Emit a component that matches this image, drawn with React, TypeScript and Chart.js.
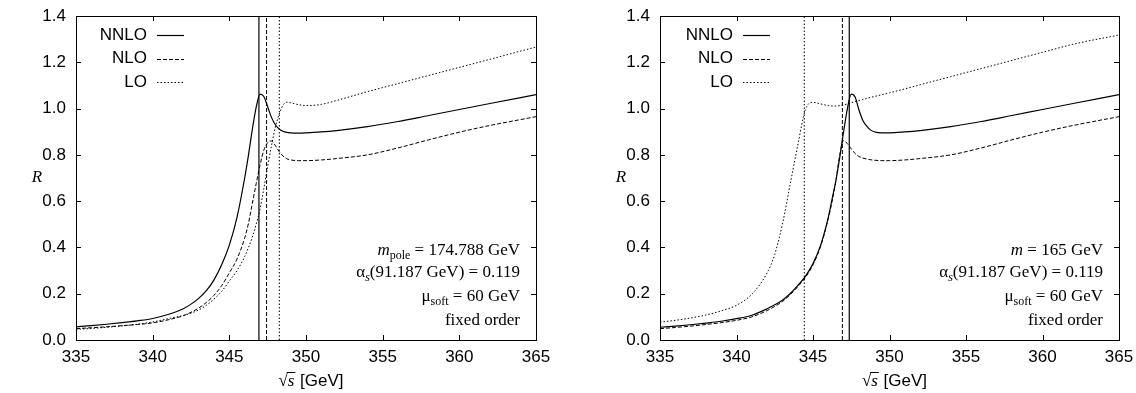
import React, { useEffect, useRef } from 'react';
import { Chart, registerables } from 'chart.js';

Chart.register(...registerables);

// ---------- data ----------
const energies = [335, 336, 337, 338, 339, 340, 341, 342, 342.5, 343, 343.5, 344, 344.5, 345, 345.5, 346, 346.25, 346.5, 346.75, 347, 347.25, 347.5, 347.75, 348, 348.25, 348.5, 348.75, 349, 349.5, 350, 351, 352, 354, 356, 358, 360, 362, 365];

const leftNNLO = [0.057, 0.062, 0.068, 0.075, 0.083, 0.093, 0.110, 0.135, 0.155, 0.18, 0.213, 0.26, 0.325, 0.41, 0.53, 0.70, 0.80, 0.91, 1.005, 1.062, 1.052, 1.008, 0.962, 0.93, 0.912, 0.902, 0.897, 0.895, 0.894, 0.895, 0.899, 0.905, 0.922, 0.944, 0.97, 0.996, 1.022, 1.06];
const leftNLO = [0.049, 0.053, 0.057, 0.062, 0.067, 0.074, 0.087, 0.105, 0.12, 0.138, 0.162, 0.193, 0.235, 0.29, 0.35, 0.44, 0.505, 0.59, 0.675, 0.755, 0.82, 0.853, 0.86, 0.84, 0.814, 0.795, 0.783, 0.778, 0.775, 0.775, 0.778, 0.784, 0.8, 0.83, 0.865, 0.898, 0.927, 0.965];
const leftLO = [0.046, 0.05, 0.055, 0.061, 0.068, 0.078, 0.092, 0.106, 0.116, 0.13, 0.15, 0.177, 0.21, 0.255, 0.3, 0.36, 0.4, 0.445, 0.5, 0.565, 0.655, 0.75, 0.84, 0.92, 0.975, 1.015, 1.027, 1.025, 1.017, 1.013, 1.018, 1.035, 1.073, 1.108, 1.143, 1.178, 1.213, 1.266];

const rightNNLO = [0.055, 0.06, 0.066, 0.073, 0.081, 0.092, 0.107, 0.135, 0.152, 0.172, 0.2, 0.235, 0.275, 0.33, 0.41, 0.53, 0.61, 0.69, 0.79, 0.9, 1.0, 1.062, 1.05, 0.995, 0.95, 0.925, 0.908, 0.9, 0.895, 0.895, 0.899, 0.905, 0.922, 0.944, 0.97, 0.996, 1.022, 1.06];
const rightNLO = [0.049, 0.054, 0.06, 0.067, 0.075, 0.085, 0.1, 0.127, 0.145, 0.166, 0.195, 0.23, 0.27, 0.325, 0.405, 0.525, 0.6, 0.69, 0.8, 0.862, 0.848, 0.826, 0.806, 0.793, 0.786, 0.782, 0.779, 0.777, 0.775, 0.775, 0.778, 0.784, 0.8, 0.83, 0.865, 0.898, 0.927, 0.965];
const rightLO = [0.077, 0.085, 0.095, 0.108, 0.126, 0.15, 0.198, 0.29, 0.37, 0.5, 0.67, 0.84, 0.995, 1.027, 1.02, 1.013, 1.011, 1.011, 1.013, 1.016, 1.02, 1.025, 1.03, 1.035, 1.039, 1.044, 1.048, 1.052, 1.06, 1.068, 1.085, 1.103, 1.138, 1.173, 1.208, 1.243, 1.278, 1.318];

// threshold (vertical line) positions, in order NNLO, NLO, LO
const leftThresholds = [346.93, 347.43, 348.26];
const rightThresholds = [347.37, 346.92, 344.43];

const seriesNames = ['NNLO', 'NLO', 'LO'];
const xTicks = [335, 340, 345, 350, 355, 360, 365];
const yTicks = [0, 0.2, 0.4, 0.6, 0.8, 1.0, 1.2, 1.4];

type Seg = { t: string; it?: boolean; sub?: boolean };
const leftNotes: Seg[][] = [
  [{ t: 'm', it: true }, { t: 'pole', sub: true }, { t: ' = 174.788 GeV' }],
  [{ t: 'α' }, { t: 's', it: true, sub: true }, { t: '(91.187 GeV) = 0.119' }],
  [{ t: 'μ' }, { t: 'soft', sub: true }, { t: ' = 60 GeV' }],
  [{ t: 'fixed order' }],
];
const rightNotes: Seg[][] = [
  [{ t: 'm', it: true }, { t: ' = 165 GeV' }],
  [{ t: 'α' }, { t: 's', it: true, sub: true }, { t: '(91.187 GeV) = 0.119' }],
  [{ t: 'μ' }, { t: 'soft', sub: true }, { t: ' = 60 GeV' }],
  [{ t: 'fixed order' }],
];

const DASHES: number[][] = [[], [4, 2], [1.5, 2]];
const SANS = '"Liberation Sans", Arial, Helvetica, sans-serif';
const SERIF = '"Liberation Serif", "Times New Roman", serif';

function drawRich(ctx: CanvasRenderingContext2D, segs: Seg[], right: number, base: number) {
  const fontFor = (s: Seg) => `${s.it ? 'italic ' : ''}${s.sub ? 12 : 17}px ${SERIF}`;
  let w = 0;
  segs.forEach((s) => {
    ctx.font = fontFor(s);
    w += ctx.measureText(s.t).width;
  });
  let x = right - w;
  ctx.textAlign = 'left';
  ctx.textBaseline = 'alphabetic';
  segs.forEach((s) => {
    ctx.font = fontFor(s);
    ctx.fillText(s.t, x, base + (s.sub ? 4 : 0));
    x += ctx.measureText(s.t).width;
  });
}

function makeDecor(notes: Seg[][], legendOffset: number) {
  return {
    id: 'decor',
    afterDraw(chart: any) {
      const { ctx, chartArea: a, scales } = chart;
      const xs = scales.x;
      const ys = scales.y;
      ctx.save();
      ctx.strokeStyle = '#000';
      ctx.fillStyle = '#000';
      ctx.lineWidth = 1;
      ctx.setLineDash([]);
      // frame
      ctx.strokeRect(Math.round(a.left) + 0.5, Math.round(a.top) + 0.5, Math.round(a.right - a.left), Math.round(a.bottom - a.top));
      // ticks (inward, mirrored)
      const tl = 5;
      ctx.beginPath();
      xTicks.forEach((v) => {
        const px = Math.round(xs.getPixelForValue(v)) + 0.5;
        ctx.moveTo(px, a.bottom);
        ctx.lineTo(px, a.bottom - tl);
        ctx.moveTo(px, a.top);
        ctx.lineTo(px, a.top + tl);
      });
      yTicks.forEach((v) => {
        const py = Math.round(ys.getPixelForValue(v)) + 0.5;
        ctx.moveTo(a.left, py);
        ctx.lineTo(a.left + tl, py);
        ctx.moveTo(a.right, py);
        ctx.lineTo(a.right - tl, py);
      });
      ctx.stroke();
      // tick labels
      ctx.font = `17px ${SANS}`;
      ctx.textAlign = 'center';
      ctx.textBaseline = 'middle';
      xTicks.forEach((v) => {
        ctx.fillText(String(v), xs.getPixelForValue(v), a.bottom + 17);
      });
      ctx.textAlign = 'right';
      yTicks.forEach((v) => {
        ctx.fillText(v.toFixed(1), a.left - 10, ys.getPixelForValue(v));
      });
      // legend
      seriesNames.forEach((name, i) => {
        const yy = a.top + 19 + i * 23.5;
        const tx = a.left + legendOffset;
        ctx.font = `17px ${SANS}`;
        ctx.textAlign = 'right';
        ctx.textBaseline = 'middle';
        ctx.fillText(name, tx, yy);
        ctx.setLineDash(DASHES[i]);
        ctx.lineWidth = i === 0 ? 1.2 : 1;
        ctx.beginPath();
        ctx.moveTo(tx + 10, Math.round(yy) + 0.5);
        ctx.lineTo(tx + 37, Math.round(yy) + 0.5);
        ctx.stroke();
      });
      ctx.setLineDash([]);
      ctx.lineWidth = 1;
      // annotation
      const baseOffsets = [-85, -63, -39, -15];
      notes.forEach((segs, i) => drawRich(ctx, segs, a.right - 16, a.bottom + baseOffsets[i]));
      // y title
      ctx.font = `italic 17px ${SERIF}`;
      ctx.textAlign = 'center';
      ctx.textBaseline = 'middle';
      ctx.fillText('R', a.left - 39, (a.top + a.bottom) / 2);
      // x title: √s [GeV]
      const base = a.bottom + 46;
      ctx.textAlign = 'left';
      ctx.textBaseline = 'alphabetic';
      ctx.font = `17px ${SERIF}`;
      const wr = ctx.measureText('√').width;
      ctx.font = `italic 17px ${SERIF}`;
      const ws = ctx.measureText('s').width;
      ctx.font = `17px ${SANS}`;
      const wg = ctx.measureText(' [GeV]').width;
      const total = wr + ws + 1 + wg;
      const x0 = (a.left + a.right) / 2 + 5 - total / 2;
      ctx.font = `17px ${SERIF}`;
      ctx.fillText('√', x0, base);
      ctx.beginPath();
      ctx.moveTo(x0 + wr - 1, base - 13.5);
      ctx.lineTo(x0 + wr + ws + 1, base - 13.5);
      ctx.stroke();
      ctx.font = `italic 17px ${SERIF}`;
      ctx.fillText('s', x0 + wr, base);
      ctx.font = `17px ${SANS}`;
      ctx.fillText(' [GeV]', x0 + wr + ws + 1, base);
      ctx.restore();
    },
  };
}

type PanelProps = {
  series: number[][];
  thresholds: number[];
  notes: Seg[][];
  padding: { left: number; right: number; top: number; bottom: number };
  legendOffset: number;
};

function Panel({ series, thresholds, notes, padding, legendOffset }: PanelProps) {
  const ref = useRef<HTMLCanvasElement>(null);
  useEffect(() => {
    if (!ref.current) return;
    const curveSets = series.map((vals, i) => ({
      label: seriesNames[i],
      data: energies.map((e, k) => ({ x: e, y: vals[k] })),
      borderColor: '#000',
      borderWidth: i === 0 ? 1.2 : 1,
      borderDash: DASHES[i],
      pointRadius: 0,
      fill: false,
      cubicInterpolationMode: 'monotone' as const,
    }));
    const vlineSets = thresholds.map((t, i) => ({
      label: seriesNames[i] + ' threshold',
      data: [
        { x: t, y: yTicks[0] },
        { x: t, y: yTicks[yTicks.length - 1] },
      ],
      borderColor: '#000',
      borderWidth: i === 0 ? 1.2 : 1,
      borderDash: DASHES[i],
      pointRadius: 0,
      fill: false,
    }));
    const chart = new Chart(ref.current, {
      type: 'line',
      data: { datasets: [...vlineSets, ...curveSets] as any },
      options: {
        animation: false,
        responsive: false,
        devicePixelRatio: 1,
        layout: { padding },
        plugins: { legend: { display: false }, tooltip: { enabled: false } },
        scales: {
          x: { type: 'linear', min: xTicks[0], max: xTicks[xTicks.length - 1], display: false },
          y: { type: 'linear', min: yTicks[0], max: yTicks[yTicks.length - 1], display: false },
        },
      },
      plugins: [makeDecor(notes, legendOffset)],
    });
    return () => chart.destroy();
  }, []);
  return <canvas ref={ref} width={568} height={393} style={{ display: 'block' }} />;
}

export default function App() {
  return (
    <div style={{ position: 'absolute', left: 0, top: 0, width: 1136, height: 393, display: 'flex', background: '#fff' }}>
      <Panel
        series={[leftNNLO, leftNLO, leftLO]}
        thresholds={leftThresholds}
        notes={leftNotes}
        padding={{ left: 76, right: 32, top: 16, bottom: 53 }}
        legendOffset={71}
      />
      <Panel
        series={[rightNNLO, rightNLO, rightLO]}
        thresholds={rightThresholds}
        notes={rightNotes}
        padding={{ left: 92, right: 17, top: 16, bottom: 53 }}
        legendOffset={73}
      />
    </div>
  );
}
